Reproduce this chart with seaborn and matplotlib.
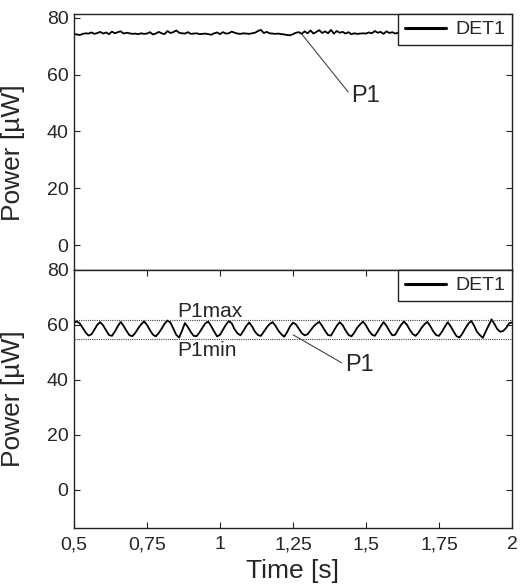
import numpy as np
import pandas as pd
import matplotlib
matplotlib.use("Agg")
import matplotlib.pyplot as plt
import seaborn as sns

# ---- data ----
top_p1 = [
    74.3, 74.2, 74.0, 74.4, 74.6, 74.5, 74.9, 74.4, 74.7, 75.1,
    74.5, 74.9, 74.3, 75.2, 74.6, 75.0, 75.3, 74.5, 74.8, 74.6,
    74.4, 74.5, 74.3, 74.6, 74.4, 74.5, 75.0, 74.2, 74.5, 75.1,
    74.6, 74.3, 75.4, 74.7, 75.0, 75.6, 74.8, 74.6, 74.5, 75.0,
    74.4, 74.5, 74.6, 74.3, 74.4, 74.5, 74.3, 74.1, 74.6, 74.9,
    74.3, 75.0, 74.5, 74.6, 75.2, 74.8, 74.5, 74.4, 74.6, 74.5,
    74.4, 74.6, 74.8, 75.4, 75.8, 74.7, 75.1, 74.6, 74.5, 74.4,
    74.5, 74.3, 74.2, 74.0, 73.9, 74.3, 74.8, 75.0, 74.4, 75.3,
    74.6, 75.6, 74.5, 75.1, 75.7, 74.7, 75.3, 74.6, 75.8, 74.5,
    75.4, 74.8, 75.1, 74.5, 75.0, 74.3, 74.6, 74.4, 74.5, 74.6,
    74.5, 74.9, 74.6, 75.4, 74.8, 75.1, 74.4, 75.3, 74.7, 75.0,
    74.5, 74.8, 74.4, 74.6, 74.9, 74.5, 74.7, 74.4, 74.6, 74.5,
    74.6, 74.8, 74.5, 74.4, 74.7, 74.6, 74.5, 74.8, 74.4, 74.6,
    74.5, 74.7, 74.6, 74.4, 74.5, 74.8, 74.6, 74.5, 74.7, 74.4,
    74.6, 74.5, 74.8, 74.6, 74.4, 74.5, 74.7, 74.6, 74.5, 74.6,
    74.5,
]

bottom_p1 = [
    60.8, 61.3, 60.5, 58.9, 57.2, 56.1, 56.6, 58.3, 60.1, 61.0,
    59.8, 58.0, 56.3, 56.0, 57.6, 59.5, 61.1, 59.6, 57.8, 56.2,
    55.9, 57.1, 58.8, 60.2, 61.3, 60.0, 58.1, 56.5, 55.8, 57.0,
    58.6, 60.4, 61.6, 60.9, 58.7, 56.4, 55.4, 57.9, 60.7, 59.2,
    57.4, 56.0, 55.9, 57.3, 59.0, 60.6, 61.2, 59.5, 57.6, 55.8,
    56.4, 58.2, 60.0, 61.4, 60.6, 58.4, 56.9, 56.2, 57.8, 59.6,
    60.9, 59.4, 57.5, 56.3, 56.0, 57.5, 59.1, 60.3, 61.0, 59.7,
    57.9, 56.6, 55.7, 57.4, 59.5, 60.8, 60.2, 58.6, 57.0, 56.2,
    56.6, 58.0, 59.4, 60.4, 61.1, 59.6, 57.8, 56.3, 56.1, 57.9,
    59.7, 61.0, 59.9, 58.0, 56.4, 55.8, 57.2, 59.0, 60.2, 61.2,
    59.8, 57.9, 56.5, 56.0, 57.6, 59.4, 61.0, 59.7, 57.8, 56.2,
    56.4, 58.3, 60.0, 61.2, 60.1, 58.2, 56.7, 56.0, 57.2, 58.9,
    60.2, 61.1, 59.6, 57.7, 56.3, 56.0, 57.5, 59.3, 61.0, 59.5,
    57.6, 55.9, 55.4, 56.8, 58.7, 60.4, 61.5, 59.8, 57.5, 56.3,
    55.3, 57.6, 59.8, 62.0, 60.3, 58.4, 57.5, 57.8, 58.9, 60.6,
    60.9,
]

t_start, t_end = 0.5, 2.0
p1_max = 61.7
p1_min = 54.8
series_name = "DET1"
x_ticks = [0.5, 0.75, 1.0, 1.25, 1.5, 1.75, 2.0]
x_tick_labels = ["0,5", "0,75", "1", "1,25", "1,5", "1,75", "2"]
y_ticks = [0, 20, 40, 60, 80]

df_top = pd.DataFrame({"t": np.linspace(t_start, t_end, len(top_p1)), "p": top_p1})
df_bot = pd.DataFrame({"t": np.linspace(t_start, t_end, len(bottom_p1)), "p": bottom_p1})

sns.set_theme(style="white")
plt.rcParams["font.family"] = ["Liberation Sans", "DejaVu Sans"]
plt.rcParams["axes.edgecolor"] = "#222222"
plt.rcParams["axes.linewidth"] = 1.0

fig = plt.figure(figsize=(5.2, 5.85), dpi=100)
L, R = 74 / 520, 512 / 520
ax1 = fig.add_axes([L, 1 - 270 / 585, R - L, 256 / 585])
ax2 = fig.add_axes([L, 1 - 528 / 585, R - L, 258 / 585])

for ax, df, ylim in ((ax1, df_top, (-8.8, 81.4)), (ax2, df_bot, (-14, 80))):
    sns.lineplot(data=df, x="t", y="p", ax=ax, color="black", linewidth=1.3,
                 label=series_name)
    ax.set_xlim(t_start, t_end)
    ax.set_ylim(*ylim)
    ax.set_yticks(y_ticks)
    ax.set_yticklabels([str(v) for v in y_ticks], fontsize=14)
    ax.set_xlabel("")
    ax.set_ylabel("Power [µW]", fontsize=19)
    ax.tick_params(direction="in", length=4, width=0.8, color="#222222",
                   left=True, right=True, pad=4)
    for s in ax.spines.values():
        s.set_visible(True)
        s.set_color("#222222")
    leg = ax.legend(loc="upper right", borderaxespad=0, fontsize=14,
                    handlelength=2.1, handletextpad=0.5, fancybox=False,
                    framealpha=1, borderpad=0.35)
    leg.get_frame().set_edgecolor("#222222")
    leg.get_frame().set_linewidth(1.0)
    for h in leg.get_lines():
        h.set_linewidth(2.2)

ax1.set_xticks([])
ax1.yaxis.set_label_coords(-0.112, 0.46)
ax2.yaxis.set_label_coords(-0.112, 0.5)

ax2.set_xticks(x_ticks)
ax2.set_xticklabels(x_tick_labels, fontsize=14)
ax2.tick_params(axis="x", top=True, bottom=True, pad=6)
ax2.set_xlabel("Time [s]", fontsize=19, labelpad=4)

# reference levels
ax2.axhline(p1_max, color="#444444", linestyle=(0, (1, 1)), linewidth=0.8)
ax2.axhline(p1_min, color="#444444", linestyle=(0, (1, 1)), linewidth=0.8)
ax2.text(0.853, 63.0, "P1max", fontsize=15, ha="left", va="baseline")
ax2.text(0.853, 54.0, "P1min", fontsize=15, ha="left", va="top")

# annotations
ax1.annotate("P1", xy=(1.281, 74.2), xytext=(1.45, 52.5), fontsize=17,
             ha="left", va="center",
             arrowprops=dict(arrowstyle="-", color="#444444", lw=0.8,
                             shrinkA=0, shrinkB=0, relpos=(0, 0.5)))
ax2.annotate("P1", xy=(1.25, 56.4), xytext=(1.428, 45.5), fontsize=17,
             ha="left", va="center",
             arrowprops=dict(arrowstyle="-", color="#444444", lw=0.8,
                             shrinkA=0, shrinkB=0, relpos=(0, 0.5)))

fig.savefig("out.png", dpi=100)
